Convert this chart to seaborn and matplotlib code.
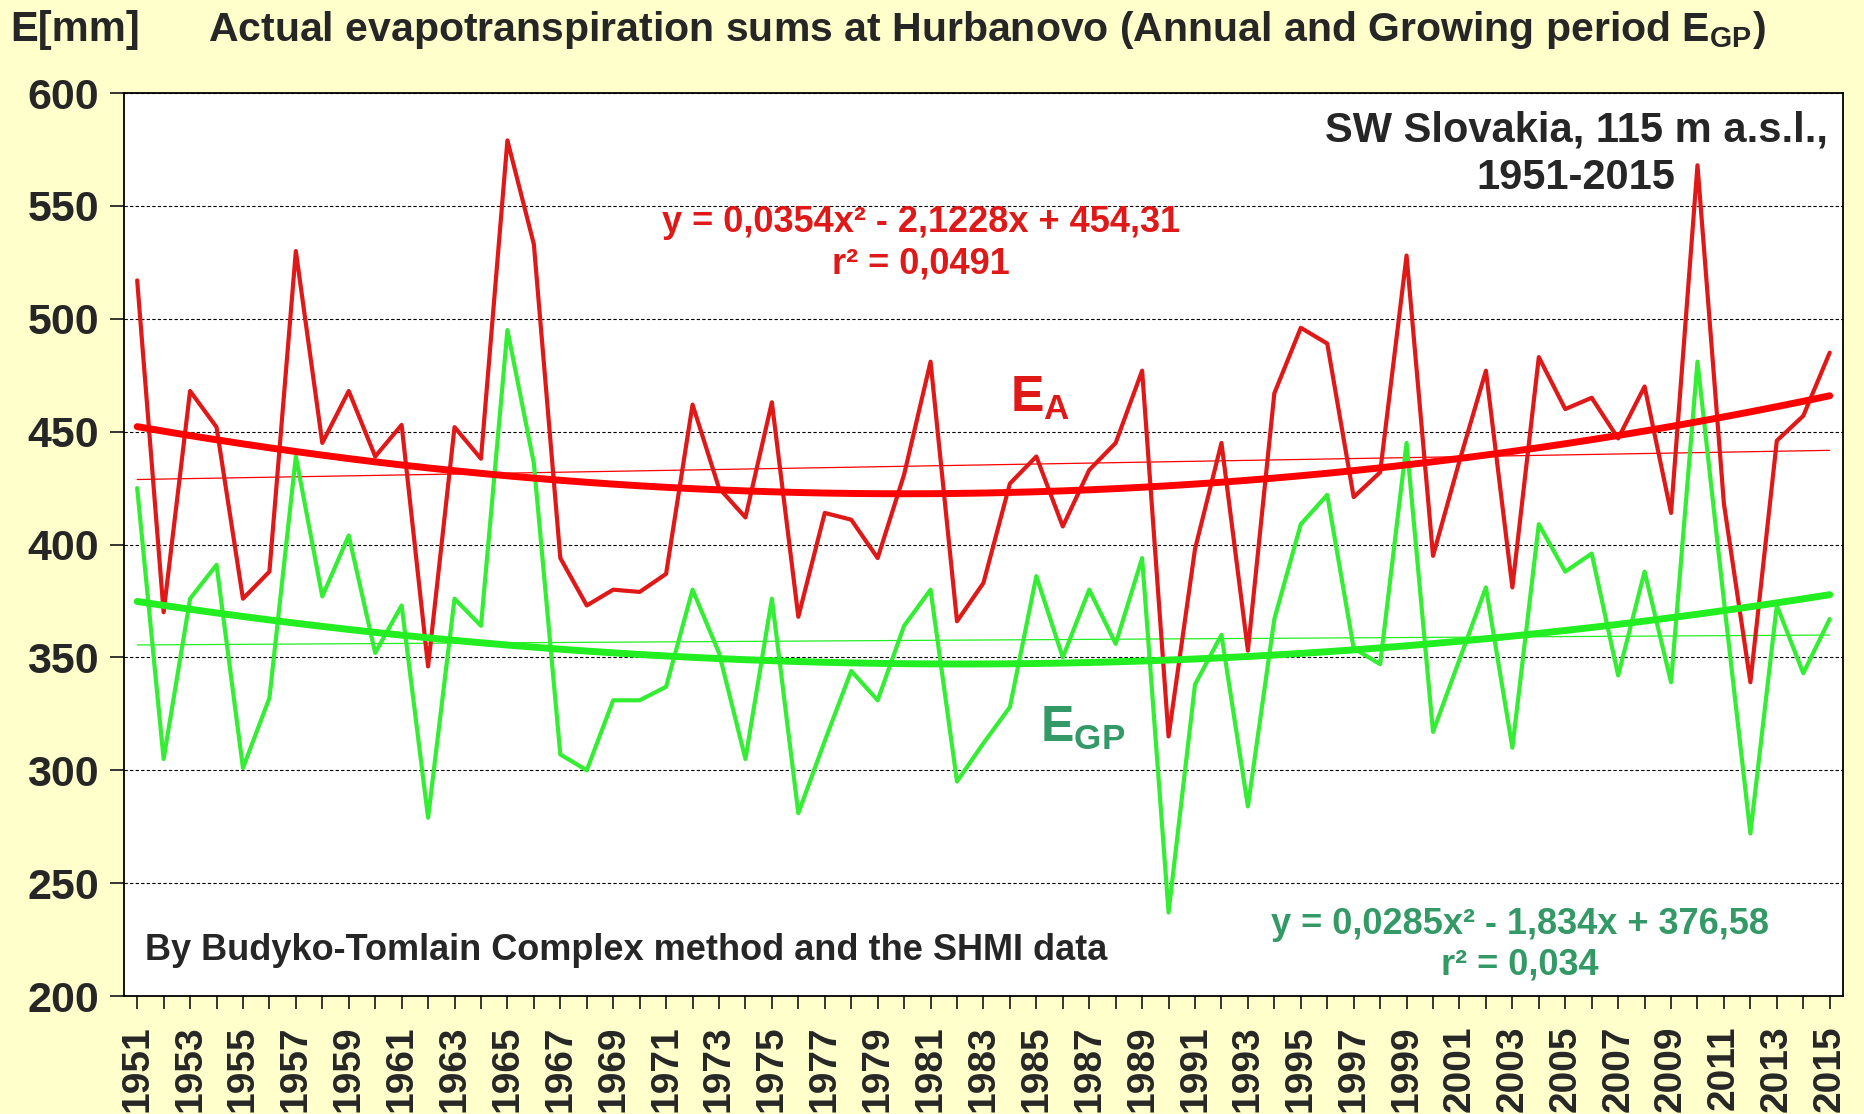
import numpy as np
import pandas as pd
import seaborn as sns
import matplotlib.pyplot as plt
from matplotlib.ticker import MultipleLocator

sns.set_style('white')
plt.rcParams['font.family'] = ['Liberation Sans', 'DejaVu Sans']
plt.rcParams['font.weight'] = 'bold'
plt.rcParams['mathtext.fontset'] = 'custom'
plt.rcParams['mathtext.rm'] = 'Liberation Sans:bold'
plt.rcParams['mathtext.bf'] = 'Liberation Sans:bold'
plt.rcParams['mathtext.default'] = 'bf'

# dados
years = list(range(1951, 2016))
ea = [517, 370, 468, 452, 376, 388, 530, 445, 468, 439,
      453, 346, 452, 438, 579, 533, 394, 373, 380, 379,
      387, 462, 425, 412, 463, 368, 414, 411, 394, 431,
      481, 366, 383, 427, 439, 408, 433, 445, 477, 315,
      398, 445, 353, 467, 496, 489, 421, 432, 528, 395,
      437, 477, 381, 483, 460, 465, 447, 470, 414, 568,
      418, 339, 446, 457, 485]
egp = [425, 305, 376, 391, 301, 332, 439, 377, 404, 352,
       373, 279, 376, 364, 495, 436, 307, 300, 331, 331,
       337, 380, 352, 305, 376, 281, 313, 344, 331, 364,
       380, 295, 312, 328, 386, 350, 380, 356, 394, 237,
       338, 360, 284, 367, 409, 422, 354, 347, 445, 317,
       349, 381, 310, 409, 388, 396, 342, 388, 339, 481,
       375, 272, 373, 343, 367]
ea_quad = [0.0354, -2.1228, 454.31]
egp_quad = [0.0285, -1.834, 376.58]

df = pd.DataFrame({'year': years, 'EA': ea, 'EGP': egp})
t = df['year'] - 1950
df['EA_quad'] = np.polyval(ea_quad, t)
df['EGP_quad'] = np.polyval(egp_quad, t)
df['EA_lin'] = np.polyval(np.polyfit(t, df['EA'], 1), t)
df['EGP_lin'] = np.polyval(np.polyfit(t, df['EGP'], 1), t)

red = '#e01818'
red_trend = '#ff0000'
green = '#33ee33'
green_trend = '#22ee22'
green_text = '#339966'

fig = plt.figure(figsize=(18.64, 11.14), dpi=100, facecolor='#ffffcc')
ax = fig.add_axes([0.0665, 0.1059, 0.9222, 0.8106])
ax.set_facecolor('white')

sns.lineplot(data=df, x='year', y='EA_lin', color=red_trend, lw=0.9, ax=ax)
sns.lineplot(data=df, x='year', y='EGP_lin', color=green_trend, lw=0.9, ax=ax)
sns.lineplot(data=df, x='year', y='EGP', color=green, lw=3, ax=ax)
sns.lineplot(data=df, x='year', y='EA', color=red, lw=3, ax=ax)
sns.lineplot(data=df, x='year', y='EGP_quad', color=green_trend, lw=5, ax=ax)
sns.lineplot(data=df, x='year', y='EA_quad', color=red_trend, lw=5, ax=ax)

ax.set_xlim(1950.5, 2015.5)
ax.set_ylim(200, 600)
ax.yaxis.set_major_locator(MultipleLocator(50))
ax.set_xticks(years[::2])
ax.set_xticks(years, minor=True)
ax.set_xticklabels([str(y) for y in years[::2]], rotation=90)
ax.set_xlabel('')
ax.set_ylabel('')
ax.grid(axis='y', color='black', ls=(0, (3, 2)), lw=0.8)
for s in ax.spines.values():
    s.set_color('black')
    s.set_linewidth(1.3)
ax.tick_params(axis='y', which='major', direction='out', length=10, width=1.3,
               labelsize=31, pad=8, left=True)
ax.tick_params(axis='x', which='both', direction='out', length=9, width=1.3,
               labelsize=28, pad=12, bottom=True)

W, H = 1864, 1114
def ftext(x, y, s, **kw):
    fig.text(x / W, 1 - y / H, s, **kw)

ftext(10, 30, 'E[mm]', fontsize=30, va='center', ha='left')
ftext(208, 30, r'Actual evapotranspiration sums at Hurbanovo (Annual and Growing period E$_{GP}$)',
      fontsize=29.5, va='center', ha='left')
ftext(1576, 131, 'SW Slovakia, 115 m a.s.l.,', fontsize=30, va='center', ha='center')
ftext(1576, 178, '1951-2015', fontsize=30, va='center', ha='center')
ftext(921, 222, 'y = 0,0354x² - 2,1228x + 454,31', fontsize=26, va='center', ha='center', color=red)
ftext(921, 264, 'r² = 0,0491', fontsize=26, va='center', ha='center', color=red)
ftext(1520, 925, 'y = 0,0285x² - 1,834x + 376,58', fontsize=26, va='center', ha='center', color=green_text)
ftext(1520, 965, 'r² = 0,034', fontsize=26, va='center', ha='center', color=green_text)
ftext(1010, 398, r'E$_{A}$', fontsize=36, va='center', ha='left', color=red)
ftext(1040, 728, r'E$_{GP}$', fontsize=36, va='center', ha='left', color=green_text)
ftext(145, 951, 'By Budyko-Tomlain Complex method and the SHMI data', fontsize=26,
      va='center', ha='left')

fig.savefig('out.png', dpi=100, facecolor=fig.get_facecolor())
